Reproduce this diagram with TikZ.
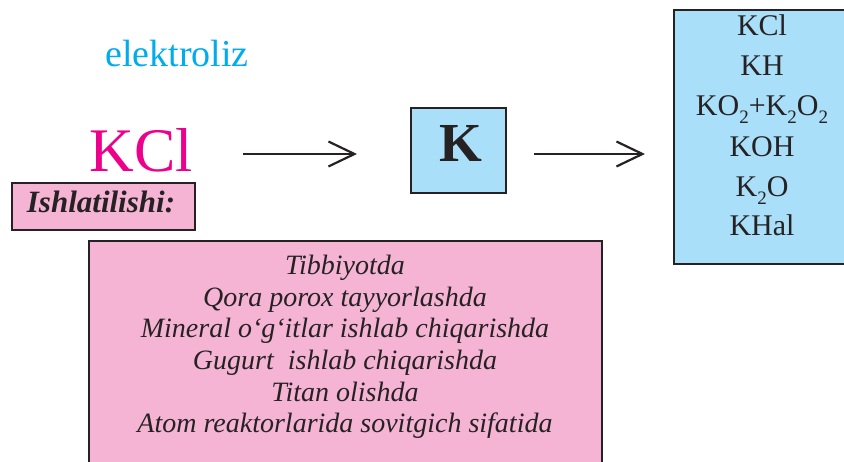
\documentclass[tikz,border=0pt]{standalone}
\usepackage{fontspec}
\setmainfont{Liberation Serif}
\usetikzlibrary{arrows.meta}
\definecolor{ecyan}{RGB}{0,172,236}
\definecolor{emag}{RGB}{236,0,140}
\definecolor{epink}{RGB}{245,180,212}
\definecolor{eblue}{RGB}{169,223,248}
\definecolor{edark}{RGB}{38,34,36}
\newcommand\chsub[1]{\raisebox{-7.5pt}{\fontsize{19}{19}\selectfont #1}}
\tikzset{
  boxed/.style={draw=edark, line width=2.4pt, inner sep=0pt, anchor=north west},
  conn/.style={draw=edark, line width=2.2pt, -{Straight Barb[length=26pt,width=25pt,line width=2.2pt]}},
  prod/.style={anchor=base, text=edark, font=\fontsize{30}{30}\selectfont, inner sep=0pt},
  use/.style={anchor=base, text=edark, font=\fontsize{28}{28}\selectfont\itshape, inner sep=0pt},
}
\begin{document}
\begin{tikzpicture}[x=1pt,y=-1pt]
\useasboundingbox (0,0) rectangle (844,462);
\clip (0,0) rectangle (844,462);
% boxes
\node[boxed, fill=eblue, minimum width=95pt, minimum height=85pt] (kbox) at (410,107) {};
\node[boxed, fill=eblue, minimum width=180pt, minimum height=254pt] (prodbox) at (673,9) {};
\node[boxed, fill=epink, minimum width=183pt, minimum height=47pt] (ishl) at (11,182) {};
\node[boxed, fill=epink, minimum width=513pt, minimum height=240pt] (usebox) at (88,240) {};
% texts
\node[anchor=base, text=ecyan, inner sep=0pt, font=\fontsize{38}{38}\selectfont] (elek) at (177,67) {elektroliz};
\node[anchor=base, text=emag, inner sep=0pt, font=\fontsize{62}{62}\selectfont] (kcl) at (141,172) {KCl};
\node[anchor=base, text=edark, inner sep=0pt, font=\fontsize{55}{55}\selectfont\bfseries] (ktxt) at (461,162) {K};
\node[anchor=base, text=edark, inner sep=0pt, font=\fontsize{31}{31}\selectfont\bfseries\itshape] (ishltxt) at (101,213) {Ishlatilishi:};
% products
\node[prod] (p1) at (762,36) {KCl};
\node[prod] (p2) at (762,76) {KH};
\node[prod] (p3) at (762,116) {KO\chsub{2}+K\chsub{2}O\chsub{2}};
\node[prod] (p4) at (762,157) {KOH};
\node[prod] (p5) at (762,197) {K\chsub{2}O};
\node[prod] (p6) at (762,236) {KHal};
% uses
\node[use] (u1) at (345,275) {Tibbiyotda};
\node[use] (u2) at (345,307) {Qora porox tayyorlashda};
\node[use] (u3) at (345,338) {Mineral o‘g‘itlar ishlab chiqarishda};
\node[use] (u4) at (345,370) {Gugurt\ \ ishlab chiqarishda};
\node[use] (u5) at (345,402) {Titan olishda};
\node[use] (u6) at (345,432) {Atom reaktorlarida sovitgich sifatida};
% arrows
\draw[conn, shorten <=50pt, shorten >=53pt] (kcl.east |- 0,154) -- (kbox.west |- 0,154);
\draw[conn, shorten <=27pt, shorten >=28pt] (kbox.east |- 0,154) -- (prodbox.west |- 0,154);
\end{tikzpicture}
\end{document}
